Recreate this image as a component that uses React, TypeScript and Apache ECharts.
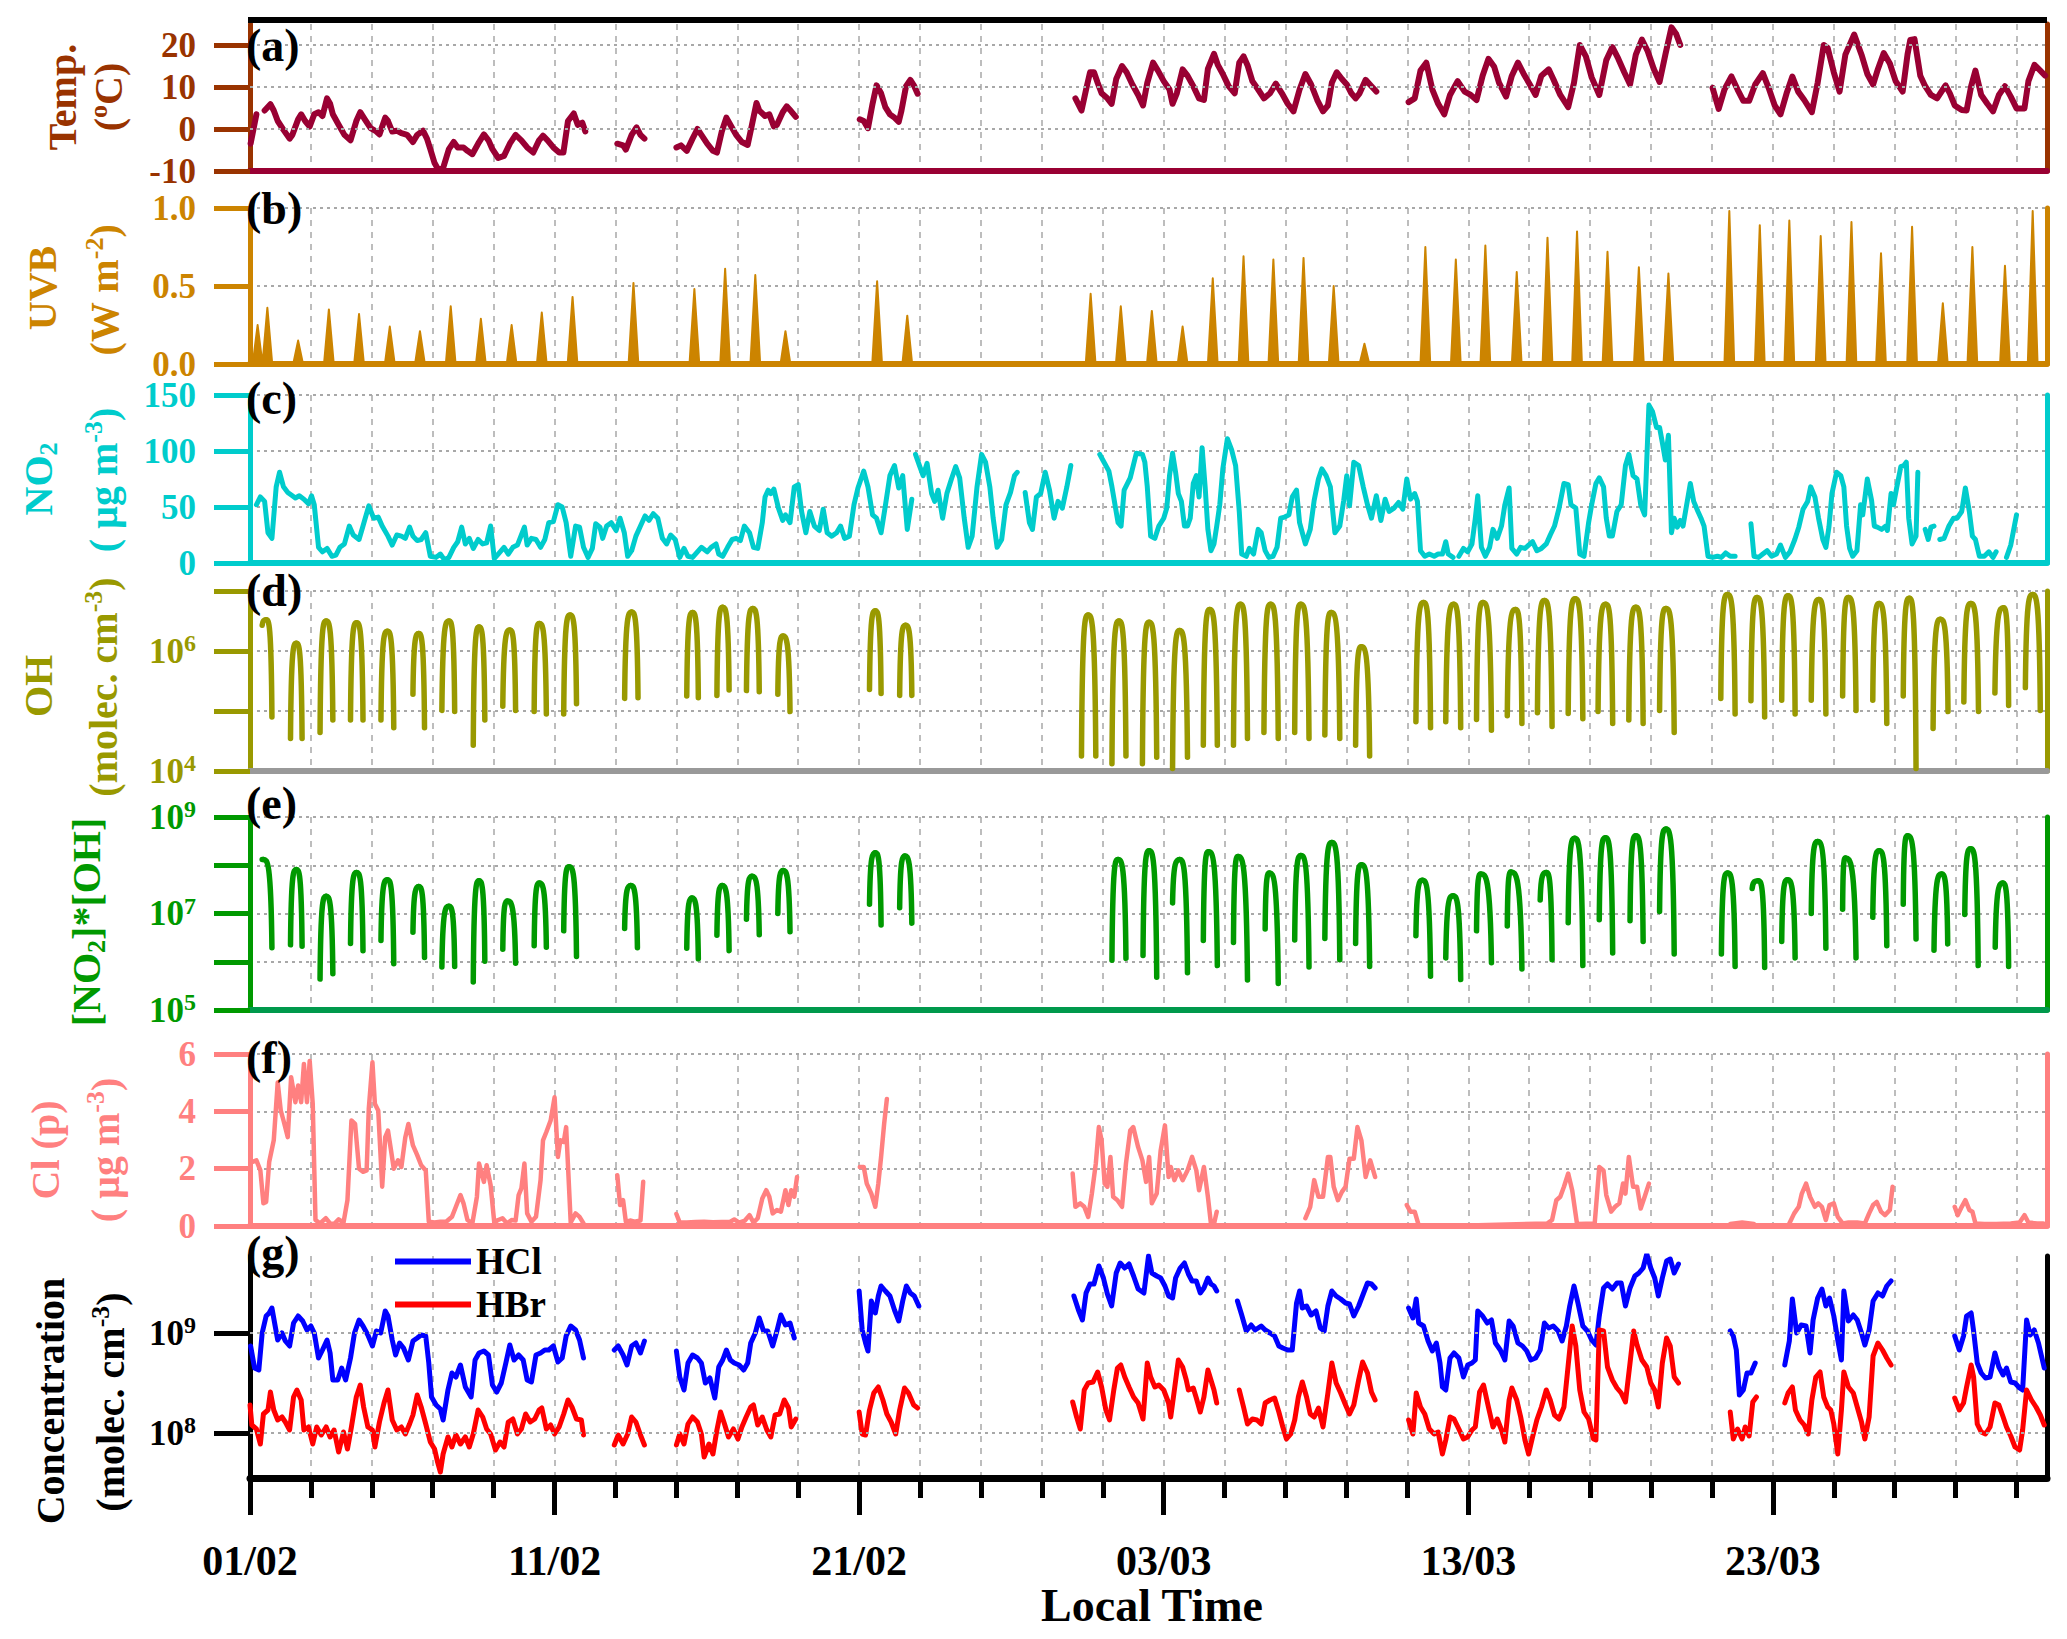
import { useEffect, useRef } from "react"
import * as echarts from "echarts"

const FONT = "'Liberation Serif', 'Times New Roman', serif"

// x axis: days since 01/02 00:00 local time
const xTickLabels = ["01/02", "11/02", "21/02", "03/03", "13/03", "23/03"]
const xMajorTicks = [0, 10, 20, 30, 40, 50]
const xMinorTicks = Array.from({ length: 30 }, (_, i) => i * 2)

// (a) temperature, ºC  [day, value]
const tempSegments = [
  [[0.02, -3.5], [0.21, 3.5]],
  [[0.48, 4.4], [0.67, 5.9], [0.78, 4.4], [0.91, 1.9], [1.1, -0.2], [1.3, -2.3], [1.39, -1.4], [1.58, 2.3], [1.68, 3.5], [1.81, 1.9], [1.96, 0.6], [2.11, 3.5], [2.25, 4.0], [2.38, 3.1], [2.53, 7.3], [2.63, 6.0], [2.72, 3.5], [2.91, 1.0], [3.1, -1.4], [3.3, -2.7], [3.49, 1.9], [3.62, 4.0], [3.77, 2.3], [3.96, 0.2], [4.15, -0.6], [4.25, -1.3], [4.44, 2.7], [4.53, 1.9], [4.67, -0.6], [4.82, -0.4], [4.97, -1.0], [5.16, -1.4], [5.35, -3.1], [5.49, -1.4], [5.68, -0.4], [5.81, -2.3], [5.92, -4.8], [6.06, -8.1], [6.19, -9.8], [6.34, -9.3], [6.53, -4.8], [6.69, -3.1], [6.82, -4.4], [7.01, -4.4], [7.14, -5.2], [7.3, -6.0], [7.49, -3.5], [7.68, -1.3], [7.83, -2.7], [7.96, -4.8], [8.15, -6.9], [8.34, -6.4], [8.53, -3.5], [8.72, -1.4], [8.91, -2.7], [9.1, -4.4], [9.3, -5.6], [9.49, -2.7], [9.62, -1.6], [9.77, -2.7], [9.96, -4.4], [10.15, -5.6], [10.29, -5.6], [10.44, 1.9], [10.63, 3.7], [10.76, 1.0], [10.91, 1.5], [11.01, -0.6]],
  [[12.06, -3.5], [12.25, -3.9], [12.34, -4.9], [12.53, -1.4], [12.69, 0.4], [12.82, -1.4], [12.95, -2.3]],
  [[14.0, -4.4], [14.15, -3.9], [14.34, -5.2], [14.53, -2.3], [14.69, 0.0], [14.82, -1.4], [15.01, -3.5], [15.2, -5.2], [15.33, -5.6], [15.49, -0.6], [15.64, 2.7], [15.77, 1.0], [15.96, -1.4], [16.15, -3.1], [16.34, -3.8], [16.48, 1.0], [16.63, 6.2], [16.72, 4.4], [16.91, 3.1], [17.05, 3.5], [17.2, 0.6], [17.3, 1.0], [17.49, 4.0], [17.62, 5.4], [17.77, 4.2], [17.92, 2.9]],
  [[20.02, 2.3], [20.15, 1.9], [20.29, 0.2], [20.44, 6.0], [20.57, 10.4], [20.72, 8.5], [20.86, 5.2], [21.01, 3.5], [21.16, 2.7], [21.3, 1.7], [21.39, 4.4], [21.54, 10.2], [21.68, 11.7], [21.81, 10.2], [21.92, 8.4]],
  [[27.1, 7.3], [27.3, 4.4], [27.45, 9.4], [27.58, 13.5], [27.71, 13.5], [27.83, 11.0], [27.96, 8.5], [28.15, 7.3], [28.29, 6.0], [28.44, 11.9], [28.63, 15.0], [28.78, 13.5], [28.97, 10.6], [29.16, 8.1], [29.32, 5.6], [29.46, 11.0], [29.65, 15.8], [29.81, 13.9], [30.0, 11.4], [30.19, 9.4], [30.29, 6.0], [30.43, 8.5], [30.62, 14.2], [30.78, 12.7], [30.97, 10.2], [31.16, 7.3], [31.32, 6.9], [31.45, 14.3], [31.65, 17.9], [31.78, 15.2], [31.94, 13.1], [32.13, 10.2], [32.33, 8.5], [32.48, 15.8], [32.62, 17.3], [32.75, 15.2], [32.91, 11.4], [33.1, 9.4], [33.29, 7.3], [33.49, 8.5], [33.68, 10.8], [33.88, 8.5], [34.07, 6.0], [34.26, 4.2], [34.46, 9.4], [34.65, 13.1], [34.84, 10.6], [35.04, 6.9], [35.23, 4.2], [35.39, 5.6], [35.52, 11.0], [35.68, 13.5], [35.85, 11.9], [36.01, 10.6], [36.16, 8.5], [36.3, 7.3], [36.43, 8.5], [36.63, 11.7], [36.82, 10.2], [36.98, 8.9]],
  [[38.04, 6.4], [38.24, 7.3], [38.43, 13.9], [38.62, 15.8], [38.82, 9.4], [39.01, 6.0], [39.21, 3.5], [39.4, 8.1], [39.65, 11.4], [39.88, 8.9], [40.08, 8.1], [40.27, 6.9], [40.47, 12.7], [40.66, 16.7], [40.85, 14.8], [41.01, 11.0], [41.24, 7.7], [41.43, 12.7], [41.63, 15.8], [41.82, 13.1], [42.02, 10.6], [42.21, 8.1], [42.4, 12.7], [42.64, 14.2], [42.79, 11.9], [43.02, 8.1], [43.28, 5.2], [43.47, 11.0], [43.66, 20.0], [43.86, 17.3], [44.05, 12.3], [44.3, 8.1], [44.53, 16.4], [44.73, 19.5], [44.92, 16.8], [45.12, 13.5], [45.31, 10.6], [45.5, 17.7], [45.7, 21.3], [45.89, 18.5], [46.09, 14.3], [46.28, 11.2], [46.47, 17.7], [46.67, 24.2], [46.82, 22.7], [46.96, 20.0]],
  [[48.02, 9.8], [48.22, 4.8], [48.41, 9.4], [48.64, 12.5], [48.84, 9.4], [49.03, 6.7], [49.22, 6.7], [49.42, 10.6], [49.67, 13.3], [49.86, 9.8], [50.06, 5.6], [50.25, 3.5], [50.45, 8.5], [50.64, 12.5], [50.83, 8.9], [51.03, 6.9], [51.28, 4.0], [51.47, 11.0], [51.67, 20.0], [51.8, 19.3], [52.0, 13.5], [52.19, 8.9], [52.38, 17.7], [52.67, 22.5], [52.91, 17.7], [53.1, 13.1], [53.29, 10.6], [53.45, 14.3], [53.64, 18.1], [53.84, 15.6], [54.03, 11.4], [54.26, 8.9], [54.42, 17.7], [54.51, 21.2], [54.65, 21.4], [54.84, 12.7], [55.0, 10.2], [55.19, 8.1], [55.39, 7.3], [55.58, 9.4], [55.67, 10.4], [55.81, 8.5], [55.97, 5.6], [56.2, 4.5], [56.36, 4.4], [56.51, 10.2], [56.65, 13.9], [56.84, 8.1], [57.04, 6.0], [57.23, 4.2], [57.42, 8.1], [57.62, 10.2], [57.81, 7.7], [58.0, 4.9], [58.26, 4.9], [58.39, 11.4], [58.59, 15.3], [58.78, 13.9], [58.94, 12.7]],
]

// (b) UVB daily peaks, W m-2  [day of peak, value]
const uvbPeaks = [
  [0.25, 0.25], [0.57, 0.36], [1.58, 0.15], [2.59, 0.35], [3.58, 0.32], [4.59, 0.24], [5.58, 0.21], [6.59, 0.37], [7.58, 0.29], [8.59, 0.25], [9.58, 0.33], [10.59, 0.43], [12.59, 0.52], [14.59, 0.48], [15.6, 0.61], [16.59, 0.57], [17.58, 0.21], [20.59, 0.53], [21.58, 0.31],
  [27.6, 0.45], [28.59, 0.37], [29.61, 0.34], [30.62, 0.24], [31.61, 0.55], [32.62, 0.69], [33.6, 0.67], [34.59, 0.68], [35.58, 0.5], [36.59, 0.13], [38.59, 0.75], [39.59, 0.67], [40.56, 0.76], [41.59, 0.59], [42.6, 0.81], [43.57, 0.85], [44.57, 0.72], [45.6, 0.62], [46.57, 0.58],
  [48.57, 0.98], [49.57, 0.89], [50.54, 0.92], [51.57, 0.82], [52.58, 0.91], [53.55, 0.71], [54.57, 0.88], [55.58, 0.39], [56.55, 0.75], [57.62, 0.63], [58.53, 0.98],
]

// (c) NO2, µg m-3
const no2Segments = [
  [[0.21, 52], [0.34, 59], [0.48, 55], [0.59, 27], [0.72, 22], [0.86, 68], [0.97, 81], [1.1, 68], [1.24, 63], [1.39, 60], [1.49, 58], [1.62, 60], [1.77, 57], [1.92, 53], [2.02, 60], [2.11, 52], [2.25, 14], [2.38, 10], [2.53, 13], [2.69, 6], [2.82, 7], [2.95, 14], [3.1, 17], [3.26, 33], [3.39, 25], [3.58, 21], [3.71, 33], [3.9, 51], [4.06, 40], [4.21, 41], [4.34, 33], [4.53, 24], [4.67, 16], [4.82, 25], [4.97, 24], [5.1, 22], [5.24, 32], [5.35, 24], [5.49, 20], [5.62, 21], [5.77, 27], [5.92, 6], [6.11, 5], [6.25, 8], [6.38, 3], [6.53, 5], [6.69, 14], [6.82, 19], [6.95, 32], [7.07, 17], [7.2, 22], [7.33, 13], [7.49, 21], [7.64, 17], [7.77, 18], [7.9, 33], [8.02, 4], [8.15, 8], [8.34, 14], [8.48, 8], [8.63, 14], [8.78, 16], [8.91, 25], [9.01, 32], [9.1, 16], [9.24, 22], [9.39, 21], [9.54, 14], [9.68, 21], [9.81, 36], [9.96, 37], [10.11, 52], [10.25, 50], [10.38, 36], [10.53, 6], [10.69, 33], [10.82, 32], [10.95, 14], [11.1, 5], [11.24, 13], [11.35, 35], [11.49, 32], [11.58, 22], [11.71, 33], [11.86, 36], [12.02, 29], [12.15, 40], [12.29, 27], [12.4, 6], [12.53, 11], [12.67, 24], [12.82, 33], [12.97, 42], [13.1, 38], [13.24, 44], [13.39, 40], [13.54, 22], [13.68, 17], [13.81, 25], [13.96, 21], [14.11, 5], [14.25, 13], [14.38, 6], [14.53, 5], [14.69, 10], [14.82, 14], [15.01, 10], [15.14, 14], [15.3, 17], [15.39, 8], [15.52, 6], [15.68, 14], [15.83, 21], [15.96, 22], [16.1, 20], [16.23, 33], [16.4, 27], [16.53, 14], [16.67, 13], [16.82, 36], [16.91, 59], [17.01, 65], [17.1, 62], [17.2, 66], [17.35, 49], [17.49, 38], [17.58, 43], [17.73, 36], [17.87, 68], [18.0, 70], [18.11, 46], [18.25, 27], [18.38, 46], [18.53, 33], [18.69, 29], [18.82, 48], [18.95, 27], [19.1, 24], [19.26, 27], [19.39, 33], [19.52, 22], [19.68, 24], [19.83, 52], [19.96, 67], [20.15, 82], [20.29, 68], [20.44, 43], [20.57, 40], [20.72, 27], [20.86, 51], [21.01, 78], [21.16, 87], [21.3, 67], [21.43, 78], [21.58, 30], [21.73, 57]],
  [[21.85, 97], [21.98, 87], [22.1, 78], [22.23, 89], [22.38, 62], [22.48, 55], [22.59, 65], [22.74, 40], [22.88, 62], [23.03, 75], [23.17, 86], [23.3, 76], [23.45, 40], [23.58, 14], [23.71, 24], [23.87, 68], [24.02, 97], [24.15, 90], [24.29, 68], [24.4, 40], [24.53, 14], [24.68, 21], [24.82, 52], [24.97, 63], [25.1, 78], [25.19, 81]],
  [[25.45, 63], [25.59, 36], [25.69, 30], [25.82, 59], [25.96, 62], [26.11, 81], [26.25, 65], [26.4, 40], [26.53, 55], [26.67, 49], [26.82, 68], [26.95, 87]],
  [[27.9, 97], [28.0, 92], [28.2, 82], [28.3, 68], [28.5, 36], [28.6, 33], [28.7, 65], [28.9, 76], [29.1, 98], [29.3, 97], [29.38, 90], [29.46, 68], [29.57, 24], [29.71, 22], [29.84, 33], [30.0, 40], [30.1, 49], [30.19, 78], [30.29, 98], [30.39, 81], [30.48, 62], [30.58, 55], [30.68, 33], [30.78, 33], [30.87, 40], [30.97, 71], [31.07, 78], [31.16, 59], [31.26, 103], [31.36, 68], [31.45, 30], [31.55, 11], [31.65, 17], [31.74, 33], [31.84, 52], [31.94, 84], [32.09, 111], [32.23, 101], [32.36, 87], [32.48, 46], [32.56, 8], [32.71, 6], [32.81, 13], [32.95, 8], [33.1, 30], [33.2, 27], [33.33, 11], [33.45, 5], [33.59, 6], [33.72, 14], [33.84, 40], [33.97, 41], [34.11, 43], [34.22, 59], [34.36, 65], [34.46, 36], [34.55, 27], [34.65, 17], [34.81, 30], [34.94, 56], [35.08, 75], [35.19, 84], [35.33, 78], [35.47, 68], [35.62, 27], [35.78, 33], [35.91, 56], [36.01, 78], [36.1, 51], [36.24, 90], [36.4, 87], [36.55, 68], [36.69, 52], [36.82, 40], [36.98, 60], [37.13, 38], [37.27, 57], [37.4, 46], [37.56, 49], [37.71, 54], [37.85, 48], [37.98, 75], [38.1, 57], [38.24, 62], [38.33, 55], [38.43, 11], [38.57, 6], [38.72, 8], [38.88, 6], [39.01, 8], [39.15, 8], [39.26, 19], [39.34, 8], [39.5, 5]],
  [[39.69, 6], [39.84, 13], [39.98, 10], [40.12, 17], [40.23, 40], [40.31, 60], [40.43, 14], [40.56, 6], [40.7, 14], [40.81, 30], [40.95, 22], [41.09, 33], [41.2, 52], [41.34, 67], [41.43, 13], [41.59, 8], [41.72, 14], [41.86, 13], [41.98, 16], [42.11, 19], [42.25, 11], [42.4, 13], [42.56, 17], [42.69, 25], [42.83, 33], [42.98, 49], [43.14, 71], [43.28, 70], [43.37, 52], [43.53, 49], [43.66, 8], [43.8, 6], [43.95, 36], [44.05, 52], [44.19, 71], [44.3, 76], [44.44, 68], [44.53, 40], [44.63, 24], [44.73, 24], [44.88, 46], [45.02, 52], [45.16, 87], [45.27, 97], [45.41, 78], [45.54, 75], [45.66, 52], [45.79, 43], [45.93, 141], [46.05, 135], [46.18, 121], [46.28, 121], [46.38, 106], [46.47, 92], [46.57, 114], [46.67, 27], [46.76, 40], [46.86, 32], [46.96, 38], [47.05, 33], [47.15, 49], [47.29, 71], [47.4, 55], [47.54, 46], [47.64, 40], [47.74, 33], [47.87, 6], [48.02, 5], [48.18, 6], [48.31, 5], [48.45, 9], [48.6, 6], [48.76, 6]],
  [[49.28, 35], [49.38, 6], [49.53, 5], [49.67, 8], [49.81, 11], [49.96, 6], [50.12, 8], [50.25, 16], [50.41, 5], [50.56, 10], [50.72, 21], [50.85, 32], [50.99, 48], [51.14, 55], [51.24, 68], [51.38, 59], [51.5, 40], [51.64, 21], [51.74, 14], [51.84, 32], [51.94, 62], [52.09, 81], [52.23, 78], [52.33, 68], [52.42, 33], [52.52, 13], [52.62, 6], [52.76, 11], [52.88, 52], [52.95, 43], [53.1, 75], [53.24, 56], [53.33, 33], [53.43, 32], [53.57, 30], [53.7, 33], [53.76, 29], [53.88, 62], [53.96, 52], [54.07, 68], [54.2, 86], [54.3, 87], [54.38, 90], [54.46, 40], [54.57, 17], [54.7, 24], [54.76, 81]],
  [[55.0, 30], [55.1, 21], [55.19, 32], [55.29, 33]],
  [[55.48, 21], [55.62, 22], [55.78, 33], [55.93, 40], [56.05, 40], [56.2, 46], [56.32, 67], [56.45, 46], [56.55, 24], [56.65, 21], [56.78, 6], [56.94, 6], [57.09, 10], [57.23, 5], [57.33, 10]],
  [[57.67, 5], [57.81, 16], [58.0, 43]],
]

// (d) OH, log10(molec. cm-3): one daytime arc per row
// [start day, start, peak day, peak, end day, end]
const ohArcs = [
  [0.4, 6.43, 0.53, 6.52, 0.72, 4.9], [1.33, 4.54, 1.52, 6.13, 1.71, 4.54], [2.3, 4.64, 2.5, 6.5, 2.72, 4.85], [3.3, 4.85, 3.5, 6.47, 3.71, 4.85], [4.3, 4.85, 4.51, 6.33, 4.72, 4.72], [5.35, 5.28, 5.54, 6.29, 5.73, 4.72], [6.3, 5.01, 6.53, 6.5, 6.72, 4.99], [7.33, 4.43, 7.52, 6.4, 7.71, 4.85], [8.3, 5.08, 8.53, 6.35, 8.72, 5.01], [9.33, 4.99, 9.5, 6.46, 9.73, 4.95], [10.3, 4.95, 10.51, 6.6, 10.72, 5.12],
  [12.3, 5.21, 12.53, 6.65, 12.74, 5.22], [14.34, 5.25, 14.53, 6.64, 14.72, 5.22], [15.33, 5.26, 15.52, 6.73, 15.73, 5.35], [16.3, 5.34, 16.51, 6.71, 16.72, 5.32], [17.33, 5.28, 17.5, 6.25, 17.73, 4.99], [20.34, 5.36, 20.53, 6.67, 20.72, 5.29], [21.33, 5.26, 21.52, 6.43, 21.73, 5.26],
  [27.3, 4.25, 27.52, 6.6, 27.77, 4.25], [28.3, 4.12, 28.53, 6.5, 28.76, 4.25], [29.3, 4.12, 29.52, 6.48, 29.77, 4.23], [30.29, 4.04, 30.52, 6.34, 30.78, 4.23], [31.3, 4.43, 31.51, 6.69, 31.76, 4.43], [32.29, 4.43, 32.52, 6.78, 32.75, 4.54], [33.29, 4.64, 33.51, 6.78, 33.76, 4.54], [34.3, 4.64, 34.5, 6.78, 34.77, 4.54], [35.29, 4.6, 35.5, 6.64, 35.78, 4.54], [36.3, 4.43, 36.49, 6.07, 36.76, 4.25],
  [38.28, 4.82, 38.53, 6.81, 38.76, 4.72], [39.26, 4.82, 39.52, 6.78, 39.75, 4.72], [40.27, 4.86, 40.48, 6.81, 40.76, 4.68], [41.28, 4.92, 41.55, 6.69, 41.76, 4.79], [42.27, 4.97, 42.5, 6.84, 42.75, 4.74], [43.28, 4.96, 43.51, 6.87, 43.76, 4.87], [44.26, 4.99, 44.51, 6.78, 44.74, 4.79], [45.27, 4.85, 45.5, 6.73, 45.74, 4.79], [46.28, 5.01, 46.49, 6.71, 46.76, 4.64],
  [48.29, 5.21, 48.51, 6.94, 48.76, 4.95], [49.28, 5.17, 49.48, 6.89, 49.73, 4.9], [50.29, 5.18, 50.5, 6.92, 50.73, 4.95], [51.26, 5.18, 51.51, 6.86, 51.74, 4.95], [52.29, 5.25, 52.48, 6.89, 52.73, 5.01], [53.28, 5.18, 53.49, 6.79, 53.74, 4.79], [54.28, 5.25, 54.48, 6.88, 54.7, 4.04], [55.26, 4.71, 55.5, 6.53, 55.75, 4.99], [56.27, 5.15, 56.5, 6.79, 56.75, 4.99], [57.29, 5.3, 57.57, 6.72, 57.74, 5.09], [58.29, 5.39, 58.53, 6.94, 58.78, 5.01],
]

// (e) [NO2]*[OH], log10
const prodArcs = [
  [0.4, 8.12, 0.44, 8.12, 0.72, 6.29], [1.33, 6.35, 1.52, 7.91, 1.71, 6.32], [2.3, 5.64, 2.5, 7.36, 2.72, 5.75], [3.3, 6.38, 3.5, 7.85, 3.71, 6.23], [4.3, 6.44, 4.51, 7.7, 4.72, 5.96], [5.35, 6.61, 5.54, 7.56, 5.73, 6.09], [6.3, 5.89, 6.53, 7.15, 6.72, 5.9], [7.33, 5.58, 7.52, 7.68, 7.71, 6.01], [8.3, 6.26, 8.45, 7.26, 8.72, 5.97], [9.33, 6.33, 9.5, 7.63, 9.73, 6.3], [10.3, 6.64, 10.48, 7.97, 10.72, 6.11],
  [12.3, 6.69, 12.5, 7.58, 12.72, 6.29], [14.34, 6.28, 14.51, 7.32, 14.72, 6.06], [15.33, 6.55, 15.5, 7.58, 15.73, 6.23], [16.3, 6.88, 16.48, 7.77, 16.72, 6.56], [17.33, 7.0, 17.5, 7.89, 17.73, 6.62], [20.34, 7.19, 20.53, 8.26, 20.72, 6.76], [21.33, 7.12, 21.5, 8.19, 21.73, 6.8],
  [28.3, 6.03, 28.5, 8.12, 28.76, 6.07], [29.32, 6.13, 29.52, 8.3, 29.77, 5.68], [30.29, 7.22, 30.52, 8.12, 30.78, 5.77], [31.3, 6.44, 31.47, 8.28, 31.76, 5.92], [32.29, 6.4, 32.44, 8.18, 32.75, 5.62], [33.33, 6.68, 33.47, 7.84, 33.76, 5.55], [34.3, 6.45, 34.5, 8.2, 34.77, 5.89], [35.29, 6.48, 35.52, 8.47, 35.78, 6.04], [36.3, 6.38, 36.49, 8.01, 36.76, 5.9],
  [38.28, 6.54, 38.49, 7.69, 38.76, 5.7], [39.26, 6.08, 39.5, 7.37, 39.75, 5.63], [40.27, 6.64, 40.41, 7.82, 40.76, 5.98], [41.28, 6.74, 41.4, 7.86, 41.76, 5.85], [42.36, 7.28, 42.56, 7.85, 42.75, 6.04], [43.28, 6.81, 43.49, 8.56, 43.76, 5.92], [44.3, 6.87, 44.5, 8.57, 44.74, 6.18], [45.31, 6.85, 45.5, 8.61, 45.74, 6.42], [46.28, 7.04, 46.49, 8.75, 46.76, 6.16],
  [48.31, 6.16, 48.51, 7.84, 48.76, 5.9], [49.32, 7.52, 49.52, 7.68, 49.73, 5.88], [50.29, 6.42, 50.48, 7.7, 50.73, 6.08], [51.26, 7.0, 51.47, 8.49, 51.74, 6.28], [52.29, 7.09, 52.38, 8.15, 52.73, 6.08], [53.28, 6.92, 53.49, 8.3, 53.74, 6.33], [54.28, 7.19, 54.42, 8.61, 54.7, 6.47], [55.29, 6.24, 55.54, 7.82, 55.74, 6.37], [56.3, 6.98, 56.49, 8.34, 56.74, 5.92], [57.3, 6.3, 57.55, 7.63, 57.74, 5.9],
]

// (f) particulate Cl, µg m-3
const clSegments = [
  [[0.06, 2.23], [0.21, 2.29], [0.34, 1.94], [0.44, 0.79], [0.53, 0.84], [0.63, 2.23], [0.78, 2.99], [0.91, 5.01], [1.01, 4.03], [1.1, 3.68], [1.24, 3.1], [1.35, 5.19], [1.49, 4.32], [1.58, 4.9], [1.68, 4.32], [1.77, 5.65], [1.87, 4.32], [1.96, 5.76], [2.06, 4.26], [2.15, 0.21], [2.3, 0.09], [2.49, 0.27], [2.63, 0.09], [2.76, 0.07], [2.91, 0.23], [3.07, 0.12], [3.2, 0.9], [3.33, 3.68], [3.45, 3.56], [3.58, 2.0], [3.71, 1.89], [3.83, 1.94], [3.9, 4.09], [4.02, 5.71], [4.1, 4.26], [4.21, 4.03], [4.34, 1.37], [4.44, 3.1], [4.53, 3.33], [4.63, 2.64], [4.72, 2.0], [4.86, 2.29], [4.97, 2.06], [5.1, 3.1], [5.2, 3.56], [5.35, 2.81], [5.49, 2.47], [5.62, 2.12], [5.77, 1.94], [5.87, 0.15], [6.06, 0.12], [6.25, 0.15], [6.44, 0.15], [6.63, 0.32], [6.76, 0.67], [6.91, 1.08], [7.01, 0.79], [7.14, 0.21], [7.3, 0.09], [7.45, 1.02], [7.52, 2.18], [7.68, 1.54], [7.77, 2.12], [7.9, 1.42], [8.02, 0.12], [8.15, 0.21], [8.29, 0.27], [8.44, 0.09], [8.59, 0.21], [8.72, 0.19], [8.82, 1.08], [8.91, 1.31], [9.01, 2.18], [9.1, 0.44], [9.24, 0.15], [9.39, 0.32], [9.54, 1.6], [9.62, 2.99], [9.73, 3.28], [9.87, 3.68], [10.0, 4.49], [10.11, 2.41], [10.19, 2.99], [10.3, 2.93], [10.38, 3.45], [10.53, 0.12], [10.69, 0.44], [10.82, 0.32], [10.95, 0.09]],
  [[12.06, 1.77], [12.15, 0.73], [12.25, 0.9], [12.34, 0.15], [12.48, 0.19], [12.63, 0.15], [12.82, 0.19], [12.91, 1.54]],
  [[14.0, 0.42], [14.11, 0.12], [14.34, 0.12], [14.63, 0.14], [14.91, 0.15], [15.2, 0.13], [15.49, 0.14], [15.77, 0.15], [15.9, 0.23], [16.06, 0.12], [16.25, 0.19], [16.4, 0.38], [16.53, 0.12], [16.67, 0.27], [16.82, 0.96], [16.95, 1.25], [17.05, 1.02], [17.16, 0.44], [17.3, 0.56], [17.43, 0.5], [17.58, 1.25], [17.68, 0.73], [17.77, 1.25], [17.87, 1.02], [17.96, 1.71]],
  [[20.02, 2.06], [20.15, 2.06], [20.25, 1.48], [20.4, 1.13], [20.53, 0.67], [20.63, 1.48], [20.72, 2.41], [20.82, 3.56], [20.91, 4.43]],
  [[27.01, 1.83], [27.1, 0.67], [27.26, 0.79], [27.39, 0.67], [27.52, 0.32], [27.64, 1.13], [27.77, 2.18], [27.87, 3.45], [27.96, 2.99], [28.06, 1.48], [28.15, 1.37], [28.25, 2.41], [28.34, 1.02], [28.48, 0.9], [28.63, 0.67], [28.76, 2.18], [28.9, 3.33], [29.0, 3.45], [29.16, 2.75], [29.3, 2.29], [29.42, 1.54], [29.52, 2.41], [29.61, 0.79], [29.77, 1.13], [29.9, 2.64], [30.04, 3.51], [30.16, 1.71], [30.23, 2.06], [30.35, 1.6], [30.48, 1.94], [30.62, 1.6], [30.78, 1.94], [30.93, 2.41], [31.07, 1.94], [31.16, 1.25], [31.32, 2.06], [31.45, 1.02], [31.55, 0.09], [31.65, 0.07], [31.74, 0.5]],
  [[34.65, 0.27], [34.81, 0.67], [34.94, 1.6], [35.08, 1.02], [35.23, 1.02], [35.39, 2.41], [35.47, 2.41], [35.58, 1.37], [35.72, 0.9], [35.85, 1.19], [35.97, 1.37], [36.1, 2.35], [36.24, 2.35], [36.36, 3.45], [36.49, 2.99], [36.63, 1.71], [36.78, 2.29], [36.94, 1.71]],
  [[37.98, 0.73], [38.1, 0.5], [38.24, 0.5], [38.37, 0.03], [40.0, 0.02], [42.6, 0.09], [42.75, 0.21], [42.89, 0.9], [43.02, 1.02], [43.14, 1.37], [43.28, 1.83], [43.41, 1.25], [43.57, 0.07], [44.15, 0.09], [44.3, 2.06], [44.44, 1.94], [44.53, 1.08], [44.69, 0.5], [44.82, 0.67], [44.96, 0.79], [45.08, 1.48], [45.16, 1.13], [45.27, 2.41], [45.41, 1.37], [45.54, 1.37], [45.66, 0.61], [45.79, 1.02], [45.93, 1.48]],
  [[48.6, 0.07], [48.99, 0.12], [49.38, 0.07]],
  [[50.54, 0.09], [50.7, 0.44], [50.85, 0.67], [50.95, 1.13], [51.09, 1.48], [51.22, 1.02], [51.38, 0.67], [51.49, 0.79], [51.61, 0.67], [51.74, 0.21], [51.86, 0.73], [52.0, 0.79], [52.13, 0.32], [52.29, 0.09], [52.48, 0.12], [52.77, 0.12], [53.02, 0.09], [53.16, 0.44], [53.29, 0.73], [53.41, 0.84], [53.55, 0.5], [53.68, 0.38], [53.84, 0.56], [53.93, 1.37]],
  [[55.97, 0.67], [56.07, 0.38], [56.2, 0.67], [56.32, 0.9], [56.45, 0.56], [56.55, 0.5], [56.65, 0.09], [56.94, 0.07], [57.33, 0.07], [57.81, 0.09], [58.1, 0.12], [58.26, 0.38], [58.39, 0.12], [58.68, 0.09], [58.88, 0.09]],
]

// (g) HCl and HBr, log10(molec. cm-3)
const hclSegments = [
  [[0.02, 8.87], [0.15, 8.65], [0.29, 8.63], [0.4, 9.0], [0.53, 9.17], [0.63, 9.2], [0.72, 9.25], [0.82, 9.08], [0.91, 8.93], [1.05, 9.0], [1.16, 8.92], [1.3, 8.87], [1.43, 9.1], [1.58, 9.17], [1.73, 9.12], [1.87, 9.03], [2.0, 9.07], [2.11, 9.0], [2.25, 8.75], [2.38, 8.83], [2.53, 8.93], [2.63, 8.8], [2.72, 8.53], [2.88, 8.53], [3.01, 8.65], [3.14, 8.53], [3.3, 8.75], [3.43, 9.0], [3.58, 9.13], [3.71, 9.07], [3.87, 8.98], [4.02, 8.87], [4.15, 9.02], [4.29, 9.0], [4.44, 9.22], [4.53, 9.17], [4.67, 8.93], [4.78, 8.78], [4.91, 8.9], [5.04, 8.85], [5.2, 8.73], [5.35, 8.92], [5.49, 8.95], [5.62, 8.98], [5.77, 8.97], [5.87, 8.7], [5.96, 8.36], [6.11, 8.28], [6.25, 8.24], [6.34, 8.13], [6.5, 8.43], [6.63, 8.6], [6.76, 8.56], [6.91, 8.68], [7.07, 8.46], [7.26, 8.36], [7.39, 8.73], [7.52, 8.8], [7.68, 8.82], [7.83, 8.78], [7.96, 8.48], [8.1, 8.41], [8.25, 8.5], [8.4, 8.7], [8.53, 8.88], [8.67, 8.73], [8.82, 8.78], [8.97, 8.73], [9.1, 8.53], [9.24, 8.51], [9.39, 8.78], [9.54, 8.8], [9.68, 8.83], [9.81, 8.83], [9.96, 8.87], [10.11, 8.71], [10.25, 8.75], [10.38, 8.97], [10.53, 9.07], [10.69, 9.03], [10.82, 8.93], [10.95, 8.75]],
  [[11.96, 8.83], [12.09, 8.87], [12.25, 8.78], [12.38, 8.68], [12.53, 8.87], [12.67, 8.9], [12.82, 8.8], [12.95, 8.92]],
  [[14.0, 8.82], [14.11, 8.56], [14.25, 8.43], [14.38, 8.7], [14.53, 8.78], [14.69, 8.75], [14.82, 8.7], [14.95, 8.5], [15.1, 8.55], [15.26, 8.35], [15.39, 8.66], [15.52, 8.73], [15.64, 8.83], [15.77, 8.73], [15.9, 8.7], [16.06, 8.68], [16.21, 8.63], [16.34, 8.7], [16.44, 8.9], [16.59, 9.0], [16.72, 9.15], [16.86, 9.02], [17.0, 9.02], [17.16, 8.87], [17.3, 9.02], [17.43, 9.18], [17.58, 9.08], [17.73, 9.1], [17.87, 8.95]],
  [[20.0, 9.42], [20.1, 9.03], [20.21, 8.9], [20.29, 8.82], [20.4, 9.32], [20.53, 9.2], [20.63, 9.37], [20.72, 9.47], [20.86, 9.42], [21.01, 9.37], [21.16, 9.23], [21.3, 9.12], [21.43, 9.32], [21.55, 9.47], [21.68, 9.4], [21.81, 9.37], [21.96, 9.27]],
  [[27.05, 9.37], [27.2, 9.23], [27.33, 9.13], [27.45, 9.4], [27.58, 9.49], [27.71, 9.49], [27.87, 9.67], [28.02, 9.55], [28.15, 9.39], [28.29, 9.27], [28.44, 9.6], [28.57, 9.7], [28.72, 9.65], [28.86, 9.69], [29.01, 9.57], [29.16, 9.44], [29.35, 9.4], [29.5, 9.77], [29.61, 9.6], [29.77, 9.57], [29.9, 9.55], [30.04, 9.47], [30.16, 9.37], [30.29, 9.35], [30.39, 9.55], [30.54, 9.65], [30.68, 9.7], [30.81, 9.59], [30.93, 9.52], [31.07, 9.52], [31.2, 9.4], [31.32, 9.45], [31.45, 9.55], [31.55, 9.49], [31.65, 9.47], [31.74, 9.42]],
  [[32.42, 9.32], [32.56, 9.18], [32.71, 9.02], [32.87, 9.08], [33.0, 9.03], [33.2, 9.07], [33.33, 9.03], [33.49, 9.0], [33.64, 8.97], [33.78, 8.87], [33.91, 8.85], [34.07, 8.83], [34.22, 8.83], [34.36, 9.3], [34.46, 9.42], [34.55, 9.25], [34.69, 9.27], [34.84, 9.18], [35.0, 9.22], [35.14, 9.05], [35.27, 9.02], [35.39, 9.27], [35.52, 9.42], [35.66, 9.37], [35.81, 9.34], [35.97, 9.3], [36.1, 9.29], [36.24, 9.17], [36.4, 9.27], [36.55, 9.39], [36.69, 9.5], [36.82, 9.49], [36.94, 9.45]],
  [[38.04, 9.25], [38.18, 9.15], [38.29, 9.34], [38.37, 9.1], [38.53, 9.07], [38.68, 8.92], [38.82, 8.82], [38.95, 8.9], [39.07, 8.7], [39.15, 8.46], [39.26, 8.43], [39.4, 8.75], [39.53, 8.8], [39.69, 8.75], [39.84, 8.56], [39.98, 8.68], [40.12, 8.7], [40.23, 8.73], [40.31, 9.22], [40.47, 9.17], [40.62, 9.1], [40.76, 9.13], [40.89, 8.9], [41.05, 8.83], [41.2, 8.73], [41.34, 9.12], [41.47, 9.07], [41.63, 8.9], [41.78, 8.87], [41.92, 8.82], [42.05, 8.73], [42.21, 8.75], [42.36, 8.83], [42.5, 9.1], [42.64, 9.05], [42.79, 9.07], [42.95, 9.02], [43.08, 8.92], [43.22, 9.07], [43.33, 9.27], [43.47, 9.47], [43.6, 9.3], [43.76, 9.07], [43.91, 9.02], [44.05, 8.93], [44.19, 8.88], [44.3, 9.17], [44.44, 9.45], [44.57, 9.49], [44.73, 9.44], [44.88, 9.5], [45.02, 9.5], [45.16, 9.27], [45.31, 9.45], [45.47, 9.57], [45.6, 9.6], [45.74, 9.65], [45.86, 9.79], [45.99, 9.65], [46.12, 9.55], [46.24, 9.37], [46.37, 9.55], [46.51, 9.72], [46.63, 9.74], [46.76, 9.6], [46.9, 9.69]],
  [[48.6, 9.02], [48.7, 8.97], [48.8, 8.83], [48.9, 8.38], [49.03, 8.43], [49.15, 8.6], [49.28, 8.6], [49.42, 8.7]],
  [[50.39, 8.68], [50.54, 8.92], [50.64, 9.34], [50.78, 9.0], [50.93, 9.08], [51.09, 9.07], [51.22, 8.8], [51.32, 9.13], [51.47, 9.35], [51.61, 9.44], [51.74, 9.27], [51.86, 9.35], [52.0, 9.17], [52.13, 8.93], [52.25, 8.73], [52.33, 9.42], [52.48, 9.12], [52.64, 9.18], [52.77, 9.13], [52.91, 9.0], [53.02, 8.88], [53.16, 9.03], [53.29, 9.32], [53.45, 9.4], [53.6, 9.37], [53.74, 9.47], [53.88, 9.52]],
  [[55.97, 8.97], [56.12, 8.83], [56.26, 8.97], [56.36, 9.17], [56.51, 9.2], [56.59, 9.02], [56.71, 8.7], [56.84, 8.6], [56.98, 8.55], [57.13, 8.56], [57.29, 8.8], [57.42, 8.66], [57.56, 8.58], [57.67, 8.65], [57.81, 8.51], [57.95, 8.5], [58.1, 8.45], [58.2, 8.43], [58.33, 9.13], [58.45, 8.98], [58.58, 9.03], [58.72, 8.9], [58.91, 8.65]],
]

const hbrSegments = [
  [[0.0, 8.28], [0.06, 8.08], [0.21, 8.04], [0.34, 7.89], [0.44, 8.19], [0.59, 8.23], [0.67, 8.41], [0.78, 8.23], [0.91, 8.13], [1.05, 8.16], [1.16, 8.11], [1.3, 8.03], [1.43, 8.36], [1.54, 8.43], [1.68, 8.33], [1.77, 8.03], [1.92, 8.06], [2.06, 7.89], [2.19, 8.06], [2.34, 7.98], [2.5, 8.06], [2.63, 7.96], [2.76, 8.03], [2.91, 7.81], [3.07, 8.01], [3.2, 7.84], [3.33, 8.06], [3.49, 8.36], [3.62, 8.48], [3.73, 8.26], [3.87, 8.06], [4.02, 8.03], [4.1, 7.86], [4.25, 8.11], [4.4, 8.3], [4.53, 8.43], [4.67, 8.13], [4.82, 8.03], [4.97, 8.06], [5.1, 7.99], [5.24, 8.09], [5.35, 8.18], [5.49, 8.38], [5.62, 8.26], [5.77, 8.09], [5.92, 7.91], [6.06, 7.84], [6.15, 7.72], [6.25, 7.61], [6.34, 7.79], [6.5, 7.96], [6.63, 7.86], [6.76, 7.98], [6.91, 7.89], [7.07, 7.96], [7.2, 7.86], [7.33, 7.99], [7.49, 8.23], [7.64, 8.16], [7.77, 8.04], [7.9, 7.99], [8.06, 7.83], [8.21, 7.91], [8.34, 7.86], [8.48, 8.11], [8.63, 8.14], [8.78, 7.99], [8.91, 8.04], [9.05, 8.19], [9.2, 8.11], [9.35, 8.14], [9.49, 8.23], [9.58, 8.25], [9.73, 8.04], [9.87, 8.08], [10.0, 7.99], [10.15, 8.06], [10.3, 8.19], [10.44, 8.33], [10.57, 8.26], [10.72, 8.14], [10.88, 8.13], [10.95, 7.98]],
  [[11.96, 7.88], [12.09, 7.98], [12.25, 7.89], [12.4, 7.99], [12.53, 8.16], [12.67, 8.11], [12.82, 7.98], [12.95, 7.88]],
  [[14.0, 7.88], [14.11, 7.99], [14.25, 7.89], [14.38, 8.09], [14.53, 8.16], [14.69, 8.11], [14.82, 7.99], [14.91, 7.76], [15.07, 7.89], [15.2, 7.79], [15.33, 8.03], [15.45, 8.21], [15.58, 8.09], [15.71, 7.96], [15.87, 8.04], [16.02, 7.94], [16.15, 8.06], [16.29, 8.16], [16.44, 8.26], [16.53, 8.28], [16.67, 8.08], [16.82, 8.16], [16.97, 8.03], [17.1, 7.96], [17.24, 8.18], [17.39, 8.19], [17.54, 8.33], [17.68, 8.25], [17.77, 8.06], [17.92, 8.14]],
  [[20.0, 8.21], [20.1, 7.99], [20.21, 7.98], [20.34, 8.23], [20.48, 8.4], [20.63, 8.46], [20.78, 8.33], [20.91, 8.19], [21.05, 8.11], [21.2, 7.99], [21.33, 8.23], [21.49, 8.45], [21.62, 8.4], [21.79, 8.28], [21.92, 8.25]],
  [[27.01, 8.31], [27.14, 8.16], [27.26, 8.04], [27.39, 8.43], [27.52, 8.5], [27.68, 8.51], [27.83, 8.61], [27.96, 8.46], [28.1, 8.23], [28.22, 8.13], [28.36, 8.43], [28.48, 8.65], [28.59, 8.68], [28.72, 8.56], [28.86, 8.46], [29.01, 8.36], [29.16, 8.3], [29.32, 8.14], [29.46, 8.7], [29.57, 8.56], [29.71, 8.46], [29.84, 8.48], [30.0, 8.43], [30.16, 8.3], [30.23, 8.16], [30.35, 8.43], [30.48, 8.73], [30.62, 8.66], [30.74, 8.53], [30.81, 8.43], [30.97, 8.45], [31.07, 8.35], [31.2, 8.21], [31.32, 8.36], [31.45, 8.63], [31.55, 8.53], [31.65, 8.43], [31.74, 8.3]],
  [[32.48, 8.43], [32.62, 8.26], [32.75, 8.09], [32.91, 8.14], [33.06, 8.13], [33.2, 8.09], [33.33, 8.3], [33.49, 8.33], [33.64, 8.35], [33.78, 8.21], [33.91, 8.06], [34.03, 7.94], [34.17, 7.99], [34.3, 8.13], [34.42, 8.36], [34.55, 8.51], [34.69, 8.36], [34.81, 8.19], [34.94, 8.16], [35.08, 8.25], [35.23, 8.06], [35.39, 8.4], [35.52, 8.7], [35.66, 8.5], [35.81, 8.4], [35.97, 8.28], [36.1, 8.19], [36.24, 8.28], [36.4, 8.53], [36.53, 8.71], [36.69, 8.6], [36.82, 8.41], [36.94, 8.33]],
  [[38.04, 8.13], [38.18, 7.99], [38.29, 8.4], [38.43, 8.26], [38.57, 8.19], [38.72, 8.04], [38.88, 7.99], [39.01, 8.01], [39.15, 7.79], [39.26, 7.93], [39.4, 8.16], [39.53, 8.14], [39.69, 8.04], [39.84, 7.94], [39.98, 7.96], [40.12, 8.03], [40.23, 8.06], [40.37, 8.41], [40.5, 8.48], [40.66, 8.26], [40.81, 8.06], [40.95, 8.14], [41.09, 8.03], [41.2, 7.91], [41.34, 8.33], [41.43, 8.45], [41.59, 8.33], [41.72, 8.16], [41.86, 7.93], [41.98, 7.79], [42.11, 7.96], [42.25, 8.13], [42.4, 8.26], [42.56, 8.43], [42.69, 8.33], [42.83, 8.18], [42.98, 8.14], [43.14, 8.26], [43.28, 8.68], [43.41, 9.07], [43.53, 8.87], [43.66, 8.43], [43.8, 8.21], [43.95, 8.14], [44.11, 7.94], [44.19, 7.93], [44.3, 9.03], [44.44, 9.02], [44.57, 8.66], [44.73, 8.53], [44.88, 8.45], [45.02, 8.4], [45.16, 8.31], [45.31, 8.7], [45.43, 9.02], [45.54, 8.88], [45.7, 8.73], [45.86, 8.66], [45.99, 8.5], [46.12, 8.43], [46.24, 8.26], [46.37, 8.7], [46.51, 8.95], [46.63, 8.87], [46.76, 8.56], [46.9, 8.5]],
  [[48.6, 8.21], [48.7, 7.94], [48.84, 8.04], [48.99, 7.94], [49.09, 8.06], [49.22, 7.97], [49.34, 8.31], [49.46, 8.36]],
  [[50.39, 8.3], [50.5, 8.4], [50.64, 8.46], [50.74, 8.23], [50.89, 8.13], [51.03, 8.08], [51.16, 7.99], [51.28, 8.33], [51.41, 8.56], [51.55, 8.61], [51.67, 8.36], [51.8, 8.26], [51.9, 8.23], [52.0, 8.09], [52.13, 7.79], [52.25, 8.23], [52.33, 8.61], [52.48, 8.46], [52.64, 8.4], [52.77, 8.26], [52.91, 8.11], [53.02, 7.94], [53.16, 8.16], [53.29, 8.77], [53.45, 8.9], [53.6, 8.83], [53.74, 8.75], [53.88, 8.68]],
  [[55.97, 8.35], [56.12, 8.23], [56.26, 8.3], [56.36, 8.46], [56.51, 8.68], [56.59, 8.56], [56.71, 8.09], [56.84, 8.01], [56.98, 7.99], [57.13, 8.06], [57.29, 8.3], [57.42, 8.28], [57.56, 8.16], [57.67, 8.06], [57.81, 7.97], [57.95, 7.86], [58.1, 7.83], [58.2, 8.03], [58.33, 8.43], [58.49, 8.33], [58.64, 8.26], [58.78, 8.18], [58.91, 8.08]],
]

const C_TEMP_AXIS = "#993300"
const C_TEMP = "#990033"
const C_UVB = "#cc8400"
const C_NO2 = "#00cccc"
const C_OH = "#999900"
const C_OH_BASE = "#999999"
const C_PROD = "#009900"
const C_PROD_BASE = "#00994c"
const C_CL = "#ff8080"
const C_HCL = "#0000ff"
const C_HBR = "#ff0000"
const C_GRID = "#a8a8a8"

// break between measurement segments
const joinSegments = (segments: number[][][]) =>
  segments.flatMap((seg, i) => (i === 0 ? seg : [[seg[0][0], "-"], ...seg]))

const uvbData = uvbPeaks.flatMap(([d, p]) => [[d - 0.16, 0], [d, p], [d + 0.16, 0]])

// layout of the seven stacked panels
const PLOT_LEFT = 250
const PLOT_RIGHT = 20
const grids = [
  { top: 24, height: 147 },
  { top: 208, height: 156 },
  { top: 395, height: 168 },
  { top: 591, height: 180 },
  { top: 817, height: 193 },
  { top: 1054, height: 172 },
  { top: 1256, height: 222 },
]

const powLabel = (v: number) => `{b|10}{s|${Math.round(v)}}`

const panels = [
  { color: C_TEMP_AXIS, base: C_TEMP, min: -10, max: 25, interval: 10, ticks: [-10, 0, 10, 20], labels: [-10, 0, 10, 20], fmt: (v: number) => String(v), split: false },
  { color: C_UVB, base: C_UVB, min: 0, max: 1, interval: 0.5, ticks: [0, 0.5, 1], labels: [0, 0.5, 1], fmt: (v: number) => v.toFixed(1), split: true },
  { color: C_NO2, base: C_NO2, min: 0, max: 150, interval: 50, ticks: [0, 50, 100, 150], labels: [0, 50, 100, 150], fmt: (v: number) => String(v), split: true },
  { color: C_OH, base: C_OH_BASE, min: 4, max: 7, interval: 1, ticks: [4, 5, 6, 7], labels: [4, 6], fmt: powLabel, split: true },
  { color: C_PROD, base: C_PROD_BASE, min: 5, max: 9, interval: 1, ticks: [5, 6, 7, 8, 9], labels: [5, 7, 9], fmt: powLabel, split: true },
  { color: C_CL, base: C_CL, min: 0, max: 6, interval: 2, ticks: [0, 2, 4, 6], labels: [0, 2, 4, 6], fmt: (v: number) => String(v), split: true },
  { color: "#000000", base: "#000000", min: 7.55, max: 9.77, interval: undefined, ticks: [8, 9], labels: [8, 9], fmt: powLabel, split: false },
]

const arcRenderer = (color: string) => (_params: any, api: any) => {
  const l = api.coord([api.value(0), api.value(1)])
  const p = api.coord([api.value(2), api.value(3)])
  const r = api.coord([api.value(4), api.value(5)])
  const dl = p[0] - l[0]
  const dr = r[0] - p[0]
  const style = { stroke: color, lineWidth: 5.5, fill: null, lineCap: "round", lineJoin: "round" }
  return {
    type: "group",
    children: [
      { type: "bezierCurve", shape: { x1: l[0], y1: l[1], x2: p[0], y2: p[1], cpx1: l[0] + dl * 0.12, cpy1: p[1], cpx2: p[0] - dl * 0.45, cpy2: p[1] }, style },
      { type: "bezierCurve", shape: { x1: p[0], y1: p[1], x2: r[0], y2: r[1], cpx1: p[0] + dr * 0.45, cpy1: p[1], cpx2: r[0] - dr * 0.12, cpy2: p[1] }, style },
    ],
  }
}

const hGridLines = (gi: number, values: number[]) => ({
  type: "line",
  xAxisIndex: gi,
  yAxisIndex: gi,
  data: [],
  z: 1,
  silent: true,
  markLine: {
    silent: true,
    symbol: "none",
    label: { show: false },
    lineStyle: { color: C_GRID, type: [3, 4], width: 2 },
    data: values.map((v) => ({ yAxis: v })),
  },
})

const titleRich = (color: string) => ({
  m: { fill: color, fontSize: 40, fontWeight: "bold", fontFamily: FONT, lineHeight: 46 },
  sup: { fill: color, fontSize: 26, fontWeight: "bold", fontFamily: FONT, lineHeight: 26, verticalAlign: "top" },
  sub: { fill: color, fontSize: 26, fontWeight: "bold", fontFamily: FONT, lineHeight: 24, verticalAlign: "bottom" },
})

const titles = [
  { x: 62, y: 97, text: "{m|Temp.}", color: C_TEMP_AXIS },
  { x: 108, y: 97, text: "{m|(}{sup|o}{m|C)}", color: C_TEMP_AXIS },
  { x: 42, y: 288, text: "{m|UVB}", color: C_UVB },
  { x: 104, y: 290, text: "{m|(W m}{sup|-2}{m|)}", color: C_UVB },
  { x: 38, y: 479, text: "{m|NO}{sub|2}", color: C_NO2 },
  { x: 103, y: 480, text: "{m|( µg m}{sup|-3}{m|)}", color: C_NO2 },
  { x: 38, y: 686, text: "{m|OH}", color: C_OH },
  { x: 103, y: 687, text: "{m|(molec. cm}{sup|-3}{m|)}", color: C_OH },
  { x: 86, y: 922, text: "{m|[NO}{sub|2}{m|]*[OH]}", color: C_PROD },
  { x: 45, y: 1150, text: "{m|Cl (p)}", color: C_CL },
  { x: 105, y: 1150, text: "{m|( µg m}{sup|-3}{m|)}", color: C_CL },
  { x: 50, y: 1401, text: "{m|Concentration}", color: "#000000" },
  { x: 110, y: 1402, text: "{m|(molec. cm}{sup|-3}{m|)}", color: "#000000" },
]

const panelLetters = [
  { text: "(a)", y: 45 },
  { text: "(b)", y: 208 },
  { text: "(c)", y: 398 },
  { text: "(d)", y: 590 },
  { text: "(e)", y: 803 },
  { text: "(f)", y: 1057 },
  { text: "(g)", y: 1252 },
]

function buildOption() {
  const xAxes: any[] = grids.map((_, gi) => ({
    type: "value",
    gridIndex: gi,
    min: 0,
    max: 59,
    interval: 2,
    position: "bottom",
    axisLine: { show: true, onZero: false, lineStyle: { color: panels[gi].base, width: gi === 6 ? 7 : 6 } },
    axisTick: gi === 6
      ? { show: true, inside: false, length: 20, customValues: xMinorTicks, lineStyle: { color: "#000", width: 5 } }
      : { show: false },
    axisLabel: { show: false },
    splitLine: { show: true, lineStyle: { color: C_GRID, type: [6, 6], width: 1.5 } },
  }))
  // major date ticks and labels under the bottom panel
  xAxes.push({
    type: "value",
    gridIndex: 6,
    min: 0,
    max: 59,
    interval: 10,
    position: "bottom",
    axisLine: { show: false, onZero: false },
    axisTick: { show: true, inside: false, length: 37, customValues: xMajorTicks, lineStyle: { color: "#000", width: 5 } },
    axisLabel: {
      show: true,
      customValues: xMajorTicks,
      margin: 62,
      color: "#000",
      fontSize: 42,
      fontWeight: "bold",
      fontFamily: FONT,
      formatter: (v: number) => xTickLabels[Math.round(v / 10)] ?? "",
    },
    splitLine: { show: false },
  })

  const leftAxes = panels.map((p, gi) => ({
    type: "value",
    gridIndex: gi,
    position: "left",
    min: p.min,
    max: p.max,
    interval: p.interval,
    axisLine: { show: true, onZero: false, lineStyle: { color: p.color, width: 5 } },
    axisTick: { show: true, inside: false, length: 36, customValues: p.ticks, lineStyle: { color: p.color, width: 5 } },
    axisLabel: {
      show: true,
      customValues: p.labels,
      margin: 54,
      color: p.color,
      fontSize: 35,
      fontWeight: "bold",
      fontFamily: FONT,
      formatter: (v: number) => (p.labels.some((l) => Math.abs(l - v) < 1e-6) ? p.fmt(v) : ""),
      rich: {
        b: { color: p.color, fontSize: 35, fontWeight: "bold", fontFamily: FONT, lineHeight: 40 },
        s: { color: p.color, fontSize: 24, fontWeight: "bold", fontFamily: FONT, lineHeight: 22, verticalAlign: "top" },
      },
    },
    splitLine: { show: p.split, lineStyle: { color: C_GRID, type: [3, 4], width: 2 } },
  }))
  const rightAxes = panels.map((p, gi) => ({
    type: "value",
    gridIndex: gi,
    position: "right",
    min: p.min,
    max: p.max,
    axisLine: { show: true, onZero: false, lineStyle: { color: p.color, width: 5 } },
    axisTick: { show: false },
    axisLabel: { show: false },
    splitLine: { show: false },
  }))

  const lineSeries = (name: string, gi: number, data: any[], color: string, width: number) => ({
    name,
    type: "line",
    xAxisIndex: gi,
    yAxisIndex: gi,
    data,
    symbol: "none",
    connectNulls: false,
    clip: true,
    z: 3,
    silent: true,
    lineStyle: { color, width, cap: "round", join: "round" },
    itemStyle: { color },
  })

  return {
    animation: false,
    backgroundColor: "#ffffff",
    grid: grids.map((g) => ({ left: PLOT_LEFT, right: PLOT_RIGHT, top: g.top, height: g.height, containLabel: false })),
    xAxis: xAxes,
    yAxis: [...leftAxes, ...rightAxes],
    legend: {
      data: ["HCl", "HBr"],
      orient: "vertical",
      left: 390,
      top: 1238,
      icon: "rect",
      itemWidth: 76,
      itemHeight: 6,
      itemGap: 6,
      selectedMode: false,
      textStyle: { color: "#000", fontSize: 37, fontWeight: "bold", fontFamily: FONT },
    },
    series: [
      lineSeries("Temp", 0, joinSegments(tempSegments), C_TEMP, 6),
      hGridLines(0, [0, 10, 20]),
      {
        ...lineSeries("UVB", 1, uvbData, C_UVB, 2),
        areaStyle: { color: C_UVB, opacity: 1 },
      },
      lineSeries("NO2", 2, joinSegments(no2Segments), C_NO2, 5),
      {
        name: "OH",
        type: "custom",
        xAxisIndex: 3,
        yAxisIndex: 3,
        data: ohArcs,
        encode: { x: [0, 2, 4], y: [1, 3, 5] },
        renderItem: arcRenderer(C_OH),
        z: 3,
        silent: true,
      },
      {
        name: "NO2*OH",
        type: "custom",
        xAxisIndex: 4,
        yAxisIndex: 4,
        data: prodArcs,
        encode: { x: [0, 2, 4], y: [1, 3, 5] },
        renderItem: arcRenderer(C_PROD),
        z: 3,
        silent: true,
      },
      lineSeries("Cl", 5, joinSegments(clSegments), C_CL, 4.5),
      lineSeries("HCl", 6, joinSegments(hclSegments), C_HCL, 5),
      lineSeries("HBr", 6, joinSegments(hbrSegments), C_HBR, 5),
      hGridLines(6, [8, 9]),
    ],
    graphic: [
      { type: "line", shape: { x1: 248, y1: 20, x2: 2047, y2: 20 }, style: { stroke: "#000", lineWidth: 6 }, z: 50 },
      ...panelLetters.map((l) => ({
        type: "text",
        x: 246,
        y: l.y,
        z: 60,
        style: { text: l.text, fill: "#000", fontSize: 46, fontWeight: "bold", fontFamily: FONT, align: "left", verticalAlign: "middle" },
      })),
      ...titles.map((t) => ({
        type: "text",
        x: t.x,
        y: t.y,
        rotation: Math.PI / 2,
        z: 60,
        style: { text: t.text, rich: titleRich(t.color), fill: t.color, align: "center", verticalAlign: "middle" },
      })),
      {
        type: "text",
        x: 1152,
        y: 1605,
        z: 60,
        style: { text: "Local Time", fill: "#000", fontSize: 46, fontWeight: "bold", fontFamily: FONT, align: "center", verticalAlign: "middle" },
      },
    ],
  }
}

export default function App() {
  const chartRef = useRef<HTMLDivElement>(null)

  useEffect(() => {
    if (!chartRef.current) return
    const chart = echarts.init(chartRef.current, null, { renderer: "svg" })
    chart.setOption(buildOption() as any)
    return () => {
      chart.dispose()
    }
  }, [])

  return (
    <div
      ref={chartRef}
      style={{ position: "absolute", left: 0, top: 0, width: 2067, height: 1639, background: "#fff" }}
    />
  )
}
